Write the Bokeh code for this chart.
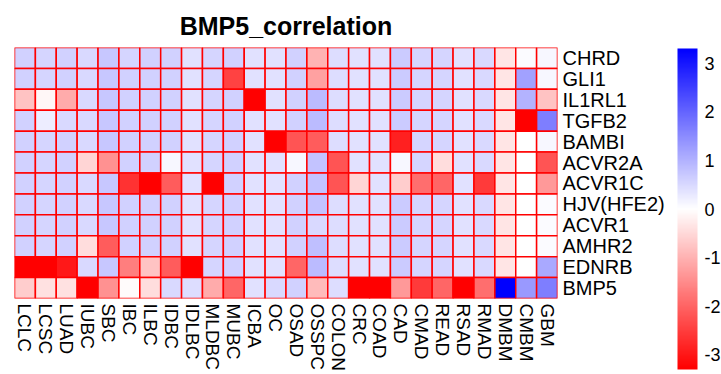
import math
from bokeh.plotting import figure
from bokeh.models import (LinearColorMapper, ColorBar, FixedTicker, ColumnDataSource,
                          FactorRange)
from bokeh.embed import file_html
from bokeh.resources import INLINE

genes = ["CHRD", "GLI1", "IL1RL1", "TGFB2", "BAMBI", "ACVR2A", "ACVR1C",
         "HJV(HFE2)", "ACVR1", "AMHR2", "EDNRB", "BMP5"]
cancers = ["LCLC", "LCSC", "LUAD", "IUBC", "SBC", "IBC", "ILBC", "IDBC", "IDLBC",
           "MLDBC", "MUBC", "ICBA", "OC", "OSAD", "OSSPC", "COLON", "CRC", "COAD",
           "CAD", "CMAD", "READ", "RSAD", "RMAD", "DMBM", "CMBM", "GBM"]

CHRD = [0.55, 0.5, 0.55, 0.45, 0.65, 0.5, 0.55, 0.55, 0.35, 0.5, 0.55, 0.35, 0.35, 0.55, -0.9, 0.4, 0.35, 0.35, 0.6, 0.5, 0.5, 0.35, 0.45, -0.3, 0.05, 0.1]
GLI1 = [0.55, 0.5, 0.55, 0.45, 0.65, 0.55, 0.55, 0.55, 0.35, 0.5, -2.2, 0.35, 0.35, 0.55, -1.1, 0.4, 0.35, 0.35, 0.6, 0.5, 0.5, 0.35, 0.45, -0.3, 1.1, 0.1]
IL1RL1 = [-0.7, -0.1, -1.0, 0.45, 0.65, 0.55, 0.55, 0.55, 0.35, 0.5, 0.55, -3.0, 0.35, 0.55, 0.8, 0.4, 0.35, 0.35, 0.6, 0.5, 0.5, 0.35, 0.45, -0.3, 0.9, -0.7]
TGFB2 = [0.55, 0.2, 0.45, 0.45, 0.65, 0.55, 0.55, 0.55, 0.35, 0.5, 0.55, 0.35, 0.35, 0.55, 0.8, 0.4, 0.35, 0.35, 0.6, 0.5, 0.5, 0.35, 0.45, -0.3, -3.0, 1.5]
BAMBI = [0.55, 0.5, 0.55, 0.45, 0.65, 0.55, 0.55, 0.55, 0.35, 0.5, 0.55, 0.35, -3.0, -2.0, -1.9, 0.4, 0.35, 0.35, -2.6, 0.5, 0.5, 0.35, 0.45, -0.3, 0.0, 0.1]
ACVR2A = [0.55, 0.5, 0.55, -0.5, -1.3, 0.55, 0.55, 0.1, 0.35, 0.5, 0.55, 0.35, 0.35, 0.1, 0.7, -2.0, 0.35, 0.35, 0.1, 0.5, -0.4, 0.35, 0.45, -0.3, 0.0, -2.0]
ACVR1C = [0.55, 0.5, 0.55, 0.45, 0.65, -2.4, -3.0, -1.9, 0.35, -3.0, 0.55, 0.35, 0.35, 0.55, 0.7, -2.0, -0.5, 0.35, -0.6, -1.7, -1.8, 0.35, -2.3, -0.3, 0.0, -1.2]
HJV = [0.55, 0.5, 0.55, 0.45, 0.65, 0.55, 0.55, 0.55, 0.35, 0.5, 0.55, 0.35, 0.35, 0.55, 0.7, 0.4, 0.35, 0.35, 0.6, 0.5, 0.5, 0.35, 0.45, -0.3, 0.0, 0.05]
ACVR1 = [0.55, 0.5, 0.55, 0.45, 0.65, 0.55, 0.55, 0.55, 0.35, 0.5, 0.55, 0.35, 0.35, 0.55, 0.45, 0.4, 0.35, 0.35, 0.6, 0.5, 0.5, 0.35, 0.45, -0.3, 0.0, 0.05]
AMHR2 = [0.55, 0.5, 0.55, -0.4, -1.9, 0.55, 0.55, 0.55, 0.35, 0.5, 0.55, 0.35, 0.35, 0.55, 0.75, 0.4, 0.35, 0.35, 0.6, 0.5, 0.5, 0.35, 0.45, -0.3, 0.0, 0.05]
EDNRB = [-3.0, -3.0, -2.7, 0.45, 0.65, -1.5, -0.7, -1.9, -3.0, 0.5, 0.55, 0.35, 0.35, -1.8, 0.8, 0.4, 0.35, 0.35, 0.6, 0.5, 0.5, 0.35, 0.45, -0.3, 0.0, 1.0]
BMP5 = [-0.6, -0.35, -0.35, -3.0, -1.3, -0.05, -0.4, 0.45, 0.4, -1.0, -1.8, 0.35, 0.45, 0.55, -0.8, 0.4, -3.0, -3.0, -1.2, -2.3, -1.8, -3.0, -1.7, 3.0, 1.2, 1.5]

rows_values = [CHRD, GLI1, IL1RL1, TGFB2, BAMBI, ACVR2A, ACVR1C, HJV, ACVR1, AMHR2, EDNRB, BMP5]
legend_ticks = [-3, -2, -1, 0, 1, 2, 3]
legend_labels = ["-3", "-2", "-1", "0", "1", "2", "3"]

# red -> white -> blue palette (linear RGB)
palette = []
n = 128
for i in range(n):
    t = i / (n - 1)
    v = int(round(255 * t))
    palette.append("#%02x%02x%02x" % (255, v, v))
for i in range(1, n):
    t = i / (n - 1)
    v = int(round(255 * (1 - t)))
    palette.append("#%02x%02x%02x" % (v, v, 255))

xs, ys, vals = [], [], []
for g, rv in zip(genes, rows_values):
    for c, v in zip(cancers, rv):
        xs.append(c)
        ys.append(g)
        vals.append(v)
src = ColumnDataSource(dict(x=xs, y=ys, v=vals))

mapper = LinearColorMapper(palette=palette, low=-3, high=3)
bar_mapper = LinearColorMapper(palette=palette, low=-3.3, high=3.3)

FONT = "Liberation Sans"

p = figure(frame_width=543, frame_height=251, output_backend="svg", toolbar_location=None,
           x_range=FactorRange(factors=cancers), y_range=FactorRange(factors=list(reversed(genes))),
           x_axis_location="below", y_axis_location="right",
           min_border_left=14, min_border_top=47, min_border_bottom=76, min_border_right=0)
p.rect(x="x", y="y", width=1, height=1, source=src,
       fill_color={"field": "v", "transform": mapper},
       line_color="#ff0000", line_width=1.5)

p.title.text = "BMP5_correlation"
p.title.align = "center"
p.title.text_font = FONT
p.title.text_font_size = "25px"
p.title.text_font_style = "bold"
p.title.text_color = "black"
p.title.standoff = 15

p.grid.grid_line_color = None
p.outline_line_color = None
p.background_fill_color = "white"
p.border_fill_color = "white"

for ax in (p.xaxis[0], p.yaxis[0]):
    ax.axis_line_color = None
    ax.major_tick_line_color = None
    ax.minor_tick_line_color = None
    ax.major_tick_out = 0
    ax.major_tick_in = 0
    ax.major_label_text_font = FONT
    ax.major_label_text_font_size = "20px"
    ax.major_label_text_color = "black"
    ax.major_label_standoff = 5
p.xaxis[0].major_label_orientation = -math.pi / 2
p.xaxis[0].major_label_text_font_size = "19px"

cb = ColorBar(color_mapper=bar_mapper, ticker=FixedTicker(ticks=legend_ticks),
              major_label_overrides={t: s for t, s in zip(legend_ticks, legend_labels)},
              width=20, height=321, location=(10, -71),
              margin=0, padding=0, label_standoff=7,
              major_label_text_font=FONT, major_label_text_font_size="18px",
              major_label_text_color="black",
              major_tick_line_color=None, bar_line_color=None,
              border_line_color=None, background_fill_alpha=0)
p.add_layout(cb, "right")

open("out.html", "w").write(file_html(p, INLINE))
